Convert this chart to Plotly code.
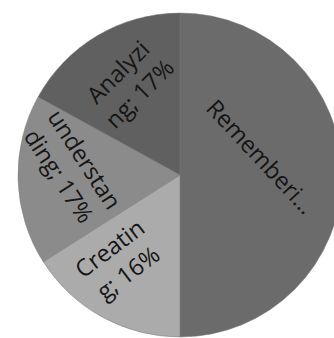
import math
import plotly.graph_objects as go

# Share of questions by cognitive level
categories = ["Remembering", "Creating", "understanding", "Analyzing"]
shares = [50, 16, 17, 17]
label_texts = ["Rememberi…", "Creatin<br>g; 16%", "understan<br>ding; 17%", "Analyzi<br>ng; 17%"]

colors = ["#6b6b6b", "#ababab", "#8b8b8b", "#606060"]

# label placement: angular offset from slice middle (deg), radius fraction, text angle
label_offsets = [-13, 7, 5.5, 1.5]
label_radius = [0.51, 0.65, 0.67, 0.65]
label_angles = [47, -37, 57, -45]

W, H = 344, 338
x0, x1 = 18, 342          # pie domain in px (left->right)
ytop, ybot = 13, 337      # pie domain in px (top->bottom)
cx, cy = (x0 + x1) / 2, (ytop + ybot) / 2
R = min(x1 - x0, ybot - ytop) / 2

fig = go.Figure(go.Pie(
    labels=categories,
    values=shares,
    sort=False,
    direction="clockwise",
    rotation=0,
    marker=dict(colors=colors, line=dict(color="#7a7a7a", width=0.5)),
    textinfo="none",
    hoverinfo="label+percent",
    showlegend=False,
    domain=dict(x=[x0 / W, x1 / W], y=[1 - ybot / H, 1 - ytop / H]),
))

total = sum(shares)
start = 0.0
annotations = []
for i, v in enumerate(shares):
    frac = v / total
    mid = (start + frac / 2) * 360 + label_offsets[i]
    start += frac
    r = R * label_radius[i]
    px = cx + r * math.sin(math.radians(mid))
    py = cy - r * math.cos(math.radians(mid))
    annotations.append(dict(
        x=px / W, y=1 - py / H, xref="paper", yref="paper",
        text=label_texts[i], showarrow=False, textangle=label_angles[i],
        font=dict(family="Open Sans", size=23.5, color="#151515"),
        xanchor="center", yanchor="middle",
    ))

fig.update_layout(
    width=W, height=H, autosize=False,
    margin=dict(l=0, r=0, t=0, b=0),
    paper_bgcolor="white", plot_bgcolor="white",
    annotations=annotations,
)

fig.write_html(
    "out.html",
    post_script="document.body.style.overflow='hidden';document.body.style.margin='0';",
)
